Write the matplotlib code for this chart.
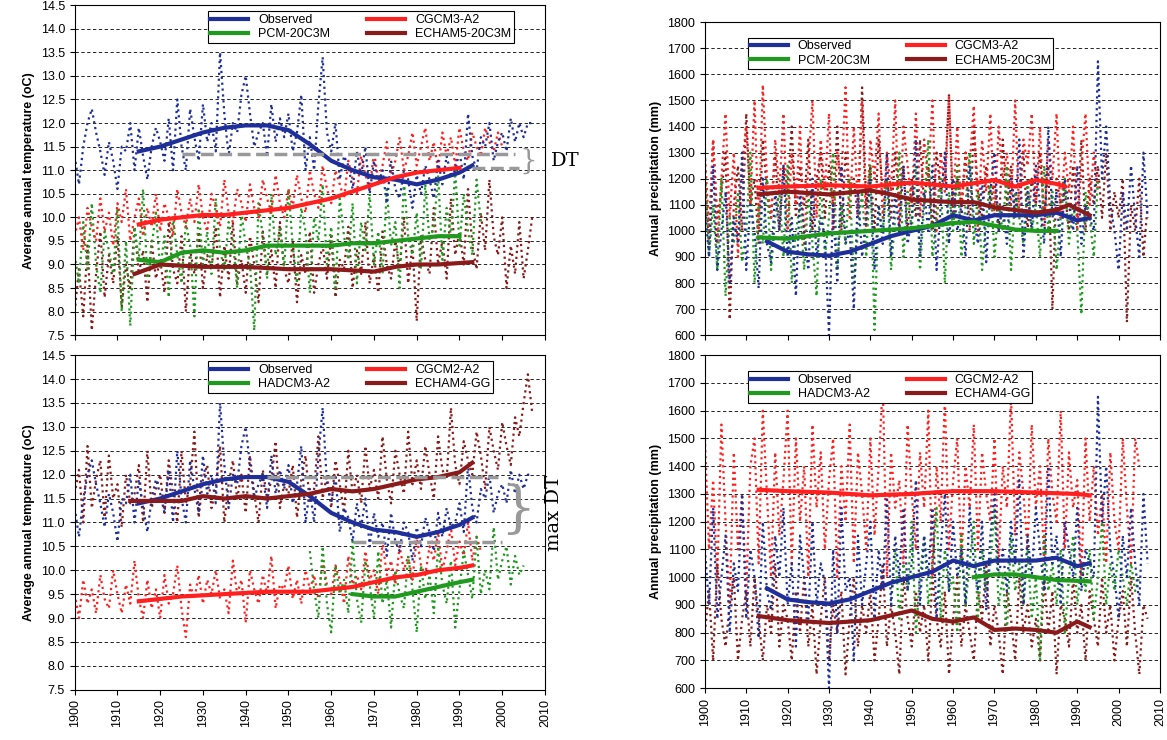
import matplotlib
matplotlib.use("Agg")
import matplotlib.pyplot as plt
import numpy as np

BLUE, RED, GREEN, BROWN = "#1f2f9a", "#ff2020", "#1f9a1f", "#8b1a1a"

# ---------------- data ----------------
obs_temp_years = list(range(1900, 2008))
obs_temp = [11.3,10.7,11.5,12.0,12.3,11.8,11.4,10.9,11.6,11.2,
            10.6,11.5,11.4,12.0,11.0,11.9,11.3,10.8,11.5,11.9,
            11.6,11.2,12.1,11.0,12.5,11.5,11.0,12.3,11.7,11.2,
            12.4,11.6,12.0,11.4,13.5,12.2,11.3,12.0,11.8,12.6,
            13.0,12.2,11.5,11.8,12.0,11.3,12.4,11.6,12.1,11.7,
            12.2,11.4,11.8,12.6,11.0,11.7,11.0,12.4,13.4,11.8,
            11.4,12.0,10.8,11.3,11.1,10.6,11.4,10.9,11.5,10.5,
            11.2,10.7,11.0,10.3,11.2,10.6,10.4,11.0,10.8,10.2,
            10.9,10.5,11.1,10.8,10.4,11.2,10.7,11.3,10.9,11.0,
            11.4,10.8,12.2,11.3,11.0,11.7,11.5,12.0,11.2,11.6,
            11.8,11.4,12.1,11.6,12.0,11.7,12.0,12.0]

sm_years_obs = [1915,1920,1925,1930,1935,1940,1945,1950,1955,1960,1965,1970,1975,1980,1985,1990,1993]
sm_obs_temp = [11.4,11.5,11.65,11.8,11.9,11.95,11.95,11.85,11.55,11.2,11.0,10.85,10.8,10.7,10.8,10.95,11.1]

# top-left models
cgcm3_t_years = list(range(1900, 2001))
cgcm3_t = [9.6,10.0,9.3,10.2,9.8,9.5,10.4,9.7,10.1,9.4,
           10.3,9.9,10.6,9.5,10.0,10.4,9.6,10.2,9.8,10.5,
           9.7,10.3,10.0,9.6,10.6,10.1,9.8,10.4,9.9,10.7,
           10.0,9.7,10.5,10.2,9.8,10.8,10.1,9.9,10.6,10.3,
           9.9,10.7,10.2,10.0,10.8,10.4,10.1,10.9,10.3,10.0,
           10.6,10.2,10.9,10.4,10.1,11.0,10.5,10.2,11.1,10.6,
           10.3,11.0,10.7,10.4,11.2,10.8,10.5,11.3,10.9,10.6,
           11.4,10.8,11.1,11.6,10.9,11.2,11.7,11.0,11.3,11.8,
           11.1,11.5,11.9,11.2,11.6,11.0,11.8,11.3,11.7,11.1,
           11.9,11.4,11.2,11.8,11.5,11.3,11.9,11.6,11.4,11.8,11.5]
pcm_t_years = list(range(1900, 1996))
pcm_t = [9.2,8.6,9.9,8.9,10.3,9.0,8.4,9.7,9.3,8.8,
         10.2,8.0,9.5,7.7,9.8,9.1,10.6,8.7,9.4,10.1,
         8.9,9.6,8.3,10.0,9.2,8.6,9.9,9.4,7.9,10.2,
         9.0,9.7,8.8,10.4,9.3,8.9,9.9,9.5,8.5,10.1,
         9.4,9.0,7.6,10.3,9.6,8.7,10.5,9.2,9.8,8.9,
         10.6,9.4,8.6,10.2,9.7,8.4,10.0,9.5,10.7,9.0,
         9.8,8.5,10.4,9.6,9.1,10.3,8.6,9.9,9.3,10.5,
         9.0,9.7,8.8,10.6,9.4,9.9,8.5,10.8,9.6,9.2,
         10.1,8.9,10.7,9.5,9.8,10.9,9.1,10.2,9.6,11.0,
         9.4,10.5,9.7,9.2,10.8,9.9]
echam5_t_years = list(range(1900, 2008))
echam5_t = [8.0,8.9,7.9,9.4,7.6,8.8,9.7,8.3,9.2,8.6,
            9.6,8.1,9.0,8.5,9.8,8.8,9.3,8.2,9.5,8.7,
            9.1,8.4,9.9,8.9,8.6,9.6,8.0,9.3,8.8,9.7,
            8.5,9.2,8.9,9.8,8.3,9.4,8.7,9.9,8.6,9.1,
            8.4,9.6,9.0,8.2,9.7,8.8,9.3,8.5,9.9,8.9,
            8.6,9.5,8.2,9.2,8.8,9.7,8.4,9.0,9.4,8.7,
            9.6,8.3,9.1,8.9,9.8,8.5,9.3,8.8,9.9,8.6,
            9.2,8.4,9.7,9.0,8.7,9.5,8.9,10.0,8.6,9.4,
            7.8,9.6,9.1,8.8,10.2,9.0,9.5,8.7,10.4,9.2,
            9.7,9.0,10.6,9.4,8.9,10.1,9.3,10.8,9.6,9.2,
            10.0,8.5,9.4,8.8,9.9,8.7,9.3,10.0]
sm_years_tl = [1915,1920,1925,1930,1935,1940,1945,1950,1955,1960,1965,1970,1975,1980,1985,1990]
sm_cgcm3_t = [9.85,9.95,10.0,10.05,10.05,10.1,10.15,10.2,10.3,10.4,10.55,10.7,10.85,10.95,11.0,11.05]
sm_pcm_t = [9.1,9.05,9.25,9.3,9.25,9.3,9.4,9.4,9.4,9.4,9.45,9.45,9.5,9.55,9.6,9.6]
sm_years_e5 = [1914,1920,1930,1940,1950,1960,1970,1975,1980,1985,1993]
sm_echam5_t = [8.8,9.0,8.95,8.95,8.9,8.9,8.85,8.95,9.0,9.0,9.05]

# bottom-left models
cgcm2_t_years = list(range(1900, 1996))
cgcm2_t = [9.5,9.0,9.8,9.3,9.6,9.1,9.9,9.4,9.2,10.0,
           9.5,9.1,9.7,9.3,10.2,9.4,9.0,9.8,9.2,9.6,
           9.0,9.9,9.3,9.5,10.1,9.2,8.6,9.7,9.4,9.9,
           9.3,9.8,9.5,10.0,9.4,9.6,9.1,10.2,9.5,9.8,
           8.9,10.0,9.6,9.3,9.9,9.5,10.3,9.2,9.7,9.6,
           10.1,9.4,9.8,9.3,10.0,9.6,9.9,9.4,10.2,9.7,
           9.5,10.1,9.8,9.3,10.3,9.7,9.9,9.6,10.4,9.8,
           10.0,9.5,10.6,9.9,10.2,9.7,10.5,10.0,10.3,9.8,
           10.7,10.1,9.9,10.5,10.2,10.8,10.0,10.4,10.9,10.1,
           10.6,10.3,11.0,10.2,10.7,10.4]
echam4_t_years = list(range(1900, 2008))
echam4_t = [11.6,12.1,11.0,12.6,11.3,11.9,12.3,11.1,12.4,11.5,
            11.8,10.9,12.0,11.4,11.6,12.2,11.0,12.5,11.3,11.7,
            12.0,11.2,12.3,11.6,11.0,12.5,11.4,11.8,12.9,11.1,
            11.9,12.2,11.3,11.7,12.6,11.0,11.8,12.3,11.5,12.0,
            11.2,12.4,11.6,11.0,12.1,11.5,11.9,12.7,11.3,11.8,
            11.6,12.2,11.1,11.9,12.4,11.4,11.7,12.8,11.5,12.0,
            11.3,12.3,11.8,11.2,12.5,11.6,12.0,11.4,12.6,11.7,
            12.1,11.5,12.8,11.9,11.4,12.5,12.0,11.6,12.9,11.8,
            12.3,11.7,12.6,12.0,11.5,12.8,12.1,11.9,13.4,12.2,
            11.8,12.7,12.3,12.0,12.9,12.4,11.7,13.0,12.5,12.1,
            13.1,12.6,12.2,13.2,12.8,13.5,14.1,13.3]
hadcm3_t_years = list(range(1955, 2006))
hadcm3_t = [10.4,9.6,9.0,10.5,9.3,8.7,10.1,9.5,9.8,9.1,
            10.6,9.4,8.9,10.2,9.7,9.0,10.4,9.3,9.8,8.8,
            10.0,9.5,9.2,10.3,9.6,8.7,10.1,9.4,9.9,9.1,
            10.5,9.7,9.3,10.2,8.8,9.6,10.4,9.9,9.4,10.7,
            9.5,10.0,9.6,10.9,9.8,10.2,10.5,9.7,10.3,9.9,10.1]
sm_years_bl = [1915,1925,1935,1945,1955,1960,1965,1970,1975,1980,1985,1990,1993]
sm_cgcm2_t = [9.35,9.45,9.5,9.55,9.55,9.6,9.65,9.75,9.85,9.9,10.0,10.05,10.1]
sm_years_had = [1965,1970,1975,1980,1985,1990,1993]
sm_hadcm3_t = [9.5,9.45,9.45,9.55,9.65,9.75,9.8]
sm_years_e4 = [1913,1920,1925,1930,1935,1940,1945,1950,1955,1960,1965,1970,1975,1980,1985,1990,1993]
sm_echam4_t = [11.45,11.45,11.45,11.55,11.5,11.55,11.5,11.55,11.6,11.7,11.65,11.7,11.8,11.9,11.95,12.05,12.25]

# precipitation
obs_pr_years = list(range(1900, 2008))
obs_pr = [1100,900,1250,850,1000,1150,800,1050,950,1300,
          850,1100,1000,780,1200,950,880,1150,1000,1250,
          900,1050,750,1150,1000,850,1200,900,1050,980,
          600,1100,800,1250,950,1000,700,1150,900,1050,
          1200,850,1100,950,1300,900,1150,1000,1250,950,
          1050,1350,900,1150,1000,1250,850,1100,1300,950,
          1200,1000,1100,900,1250,1050,950,1200,880,1150,
          1300,1000,1100,950,1200,1050,1350,900,1150,1000,
          1250,1100,950,1400,1050,1150,900,1200,1100,1000,
          1250,950,1100,1050,1000,1650,1200,1400,1100,1000,
          850,1150,1000,1250,1050,900,1300,1050]
sm_obs_pr = [960,920,910,905,920,950,980,1000,1020,1060,1040,1060,1060,1060,1070,1040,1050]

cgcm3_p_years = list(range(1900, 1996))
cgcm3_p = [1300,1000,1350,950,1200,1450,1050,1300,900,1250,
           1400,1100,1500,1000,1560,1200,1050,1350,1150,1450,
           1000,1300,1100,1400,950,1250,1500,1050,1350,1150,
           1450,1000,1300,1200,1550,1050,1400,1100,1500,1000,
           1350,1200,1450,1050,1300,1150,1500,1000,1400,1250,
           1100,1450,1050,1350,1200,1500,1000,1300,1150,1520,
           1100,1400,1050,1300,1250,1480,1000,1350,1150,1450,
           1050,1400,1200,1300,1100,1500,1050,1350,1250,1450,
           1100,1400,1000,1350,1200,1450,1050,1300,1150,1400,
           1000,1250,1450,1100,1300,1150]
pcm_p_years = list(range(1900, 1996))
pcm_p = [1250,900,1100,850,1200,750,1050,950,1150,880,
         1000,1300,800,1100,950,1200,850,1050,1150,900,
         1250,800,1000,1100,850,1150,950,750,1200,900,
         1050,1300,850,1100,950,1200,800,1000,1150,900,
         1250,620,1100,1000,1200,850,1050,1300,900,1150,
         1000,1250,850,1100,1350,900,1050,1200,800,1150,
         1000,1250,900,1100,1300,950,1150,850,1050,1200,
         900,1100,1000,1250,850,1150,1050,950,1200,1000,
         1100,900,1250,1000,1150,850,1050,1200,950,1100,
         1000,680,1150,1050,900,1200]
echam5_p_years = list(range(1900, 2008))
echam5_p = [1200,950,1350,1050,1150,1300,660,1100,1250,1000,
            1450,1100,1200,950,1350,1150,1050,1300,1000,1250,
            1150,1400,1050,1250,1100,1350,1000,1200,1300,1050,
            1250,1100,1400,1000,1300,1150,1200,1050,1550,1100,
            1250,1000,1350,1150,1200,1050,1300,1100,1250,1000,
            1200,1050,1350,1100,1250,1000,1300,1150,1200,1520,
            1050,1200,1100,1300,1000,1400,1150,1050,1250,1100,
            1200,1000,1350,1100,1250,1050,1150,1300,1000,1200,
            1100,1300,1050,1250,700,1200,1100,1150,1000,1250,
            1050,1350,1000,1200,1100,1250,1050,1300,1000,1150,
            1050,1200,650,1100,1000,1200,900,1100]
sm_years_cg = [1913,1920,1930,1940,1950,1960,1970,1975,1980,1985,1987]
sm_cgcm3_p = [1165,1170,1175,1170,1185,1170,1195,1170,1195,1180,1170]
sm_years_pcm = [1913,1920,1930,1940,1950,1960,1965,1970,1975,1980,1985]
sm_pcm_p = [975,970,990,1000,1010,1030,1035,1020,1005,1000,1000]
sm_years_e5p = [1913,1920,1930,1940,1945,1950,1960,1965,1970,1975,1980,1985,1988,1993]
sm_echam5_p = [1140,1150,1140,1155,1140,1120,1110,1110,1090,1080,1070,1080,1100,1060]

cgcm2_p_years = list(range(1900, 2006))
cgcm2_p = [1500,1100,1350,1000,1550,1200,900,1450,1100,1300,
           950,1400,1500,1050,1600,1300,1000,1450,1150,1350,
           1600,1050,1500,1200,1400,1000,1550,1250,1450,1100,
           1350,1500,1000,1400,1200,1550,1050,1450,1300,1100,
           1500,1150,1400,1700,1000,1450,1250,1350,1050,1550,
           1300,1100,1450,1250,1600,1000,1400,1200,1650,1100,
           1350,1500,1050,1400,1250,1550,1100,1450,1300,1200,
           1500,1050,1400,1250,1650,1150,1450,1300,1100,1550,
           1250,1400,1050,1500,1300,1200,1600,1100,1450,1250,
           1350,1000,1500,1200,1400,1150,1300,1050,1450,1200,
           1100,1500,1250,1050,1500,1400]
hadcm3_p_years = list(range(1945, 2006))
hadcm3_p = [900,1100,850,1050,950,1200,800,1000,1150,900,
            1050,1250,850,1100,950,1000,800,1150,900,1050,
            1200,850,1100,950,1050,1250,900,1000,800,1150,
            950,1050,900,1100,850,1000,700,1150,950,1050,
            900,1100,800,1000,1150,900,1050,950,1100,850,
            1000,1200,900,1050,950,1100,1000,900,1050,950,1000]
echam4_p_years = list(range(1900, 2008))
echam4_p = [800,950,700,1050,850,750,900,1000,700,850,
            950,750,1000,850,700,900,800,1050,750,900,
            850,700,950,800,1000,750,900,650,850,1000,
            700,900,800,950,650,850,1000,750,900,800,
            950,700,850,1050,750,900,800,650,1000,850,
            750,950,800,900,700,1000,850,750,950,650,
            850,1000,750,900,800,700,950,850,1050,750,
            900,800,650,950,850,700,1000,800,900,750,
            850,700,1000,800,950,650,900,850,750,1000,
            800,900,700,950,850,750,1000,800,900,700,
            850,950,750,1000,800,650,900,850]
sm_years_cg2 = [1913,1920,1930,1940,1950,1960,1970,1980,1990,1993]
sm_cgcm2_p = [1315,1310,1305,1295,1300,1310,1310,1305,1300,1295]
sm_years_hp = [1965,1970,1975,1980,1985,1993]
sm_hadcm3_p = [1000,1010,1010,1000,990,985]
sm_years_e4p = [1913,1920,1930,1940,1950,1955,1960,1965,1970,1975,1980,1985,1990,1993]
sm_echam4_p = [860,845,835,845,880,850,840,855,810,815,810,800,840,820]

# ---------------- plotting ----------------
fig = plt.figure(figsize=(11.67, 7.4), dpi=100)
plt.rcParams['font.family'] = ['Liberation Sans', 'DejaVu Sans']

ax_tl = fig.add_axes([0.064, 0.547, 0.403, 0.446])
ax_bl = fig.add_axes([0.064, 0.068, 0.403, 0.452])
ax_tr = fig.add_axes([0.604, 0.547, 0.390, 0.423])
ax_br = fig.add_axes([0.604, 0.070, 0.390, 0.450])

def style(ax, ylo, yhi, step, ylabel, xlabels):
    ax.set_xlim(1900, 2010)
    ax.set_ylim(ylo, yhi)
    ax.set_yticks(np.arange(ylo, yhi + step / 2, step))
    if step < 1:
        ax.set_yticklabels([f"{v:.1f}" for v in np.arange(ylo, yhi + step / 2, step)])
    ax.set_xticks(range(1900, 2011, 10))
    if xlabels:
        ax.set_xticklabels([str(y) for y in range(1900, 2011, 10)], rotation=90)
    else:
        ax.set_xticklabels([])
    ax.yaxis.grid(True, linestyle=(0, (4, 3)), color="black", lw=0.6)
    ax.set_axisbelow(True)
    ax.tick_params(labelsize=9)
    ax.set_ylabel(ylabel, fontsize=9, fontweight="bold")

def dotted(ax, x, y, c):
    ax.plot(x, y, linestyle=":", color=c, lw=1.6)

def smooth(ax, x, y, c, label=None):
    ax.plot(x, y, color=c, lw=3, label=label)

# top-left
ax = ax_tl
style(ax, 7.5, 14.5, 0.5, "Average annual temperature (oC)", False)
dotted(ax, echam5_t_years, echam5_t, BROWN)
dotted(ax, pcm_t_years, pcm_t, GREEN)
dotted(ax, cgcm3_t_years, cgcm3_t, RED)
dotted(ax, obs_temp_years, obs_temp, BLUE)
smooth(ax, sm_years_obs, sm_obs_temp, BLUE, "Observed")
smooth(ax, sm_years_tl, sm_pcm_t, GREEN, "PCM-20C3M")
smooth(ax, sm_years_tl, sm_cgcm3_t, RED, "CGCM3-A2")
smooth(ax, sm_years_e5, sm_echam5_t, BROWN, "ECHAM5-20C3M")
ax.plot([1925, 2003], [11.35, 11.35], color="#999999", lw=2.5, ls="--")
ax.plot([1993, 2004], [11.05, 11.05], color="#999999", lw=2.5, ls="--")
ax.text(2004, 11.2, "}", fontsize=20, color="#999999", va="center", ha="left", family="DejaVu Serif")
ax.text(2011.5, 11.2, "DT", fontsize=14, va="center", ha="left", family="DejaVu Serif")

# bottom-left
ax = ax_bl
style(ax, 7.5, 14.5, 0.5, "Average annual temperature (oC)", True)
dotted(ax, echam4_t_years, echam4_t, BROWN)
dotted(ax, cgcm2_t_years, cgcm2_t, RED)
dotted(ax, hadcm3_t_years, hadcm3_t, GREEN)
dotted(ax, obs_temp_years, obs_temp, BLUE)
smooth(ax, sm_years_obs, sm_obs_temp, BLUE, "Observed")
smooth(ax, sm_years_had, sm_hadcm3_t, GREEN, "HADCM3-A2")
smooth(ax, sm_years_bl, sm_cgcm2_t, RED, "CGCM2-A2")
smooth(ax, sm_years_e4, sm_echam4_t, BROWN, "ECHAM4-GG")
ax.plot([1945, 1999], [11.95, 11.95], color="#999999", lw=2.5, ls="--")
ax.plot([1965, 2000], [10.6, 10.6], color="#999999", lw=2.5, ls="--")
ax.text(1999.5, 11.25, "}", fontsize=40, color="#999999", va="center", ha="left", family="DejaVu Serif")
ax.text(2012, 11.2, "max DT", fontsize=14, va="center", ha="center", rotation=90, family="DejaVu Serif")

# top-right
ax = ax_tr
style(ax, 600, 1800, 100, "Annual precipitation (mm)", False)
dotted(ax, echam5_p_years, echam5_p, BROWN)
dotted(ax, cgcm3_p_years, cgcm3_p, RED)
dotted(ax, pcm_p_years, pcm_p, GREEN)
dotted(ax, obs_pr_years, obs_pr, BLUE)
smooth(ax, sm_years_obs, sm_obs_pr, BLUE, "Observed")
smooth(ax, sm_years_pcm, sm_pcm_p, GREEN, "PCM-20C3M")
smooth(ax, sm_years_cg, sm_cgcm3_p, RED, "CGCM3-A2")
smooth(ax, sm_years_e5p, sm_echam5_p, BROWN, "ECHAM5-20C3M")

# bottom-right
ax = ax_br
style(ax, 600, 1800, 100, "Annual precipitation (mm)", True)
dotted(ax, cgcm2_p_years, cgcm2_p, RED)
dotted(ax, echam4_p_years, echam4_p, BROWN)
dotted(ax, hadcm3_p_years, hadcm3_p, GREEN)
dotted(ax, obs_pr_years, obs_pr, BLUE)
smooth(ax, sm_years_obs, sm_obs_pr, BLUE, "Observed")
smooth(ax, sm_years_hp, sm_hadcm3_p, GREEN, "HADCM3-A2")
smooth(ax, sm_years_cg2, sm_cgcm2_p, RED, "CGCM2-A2")
smooth(ax, sm_years_e4p, sm_echam4_p, BROWN, "ECHAM4-GG")

for ax, loc in [(ax_tl, (0.27, 1.0)), (ax_bl, (0.27, 1.0)), (ax_tr, (0.08, 0.97)), (ax_br, (0.08, 0.97))]:
    h, l = ax.get_legend_handles_labels()
    leg = ax.legend(h, l, ncol=2, loc="upper left", bbox_to_anchor=loc, fontsize=9,
                    frameon=True, fancybox=False, edgecolor="black", framealpha=1,
                    handlelength=3, columnspacing=3, borderpad=0.2, labelspacing=0.2)
    leg.get_frame().set_linewidth(0.8)

fig.savefig("out.png", dpi=100)
